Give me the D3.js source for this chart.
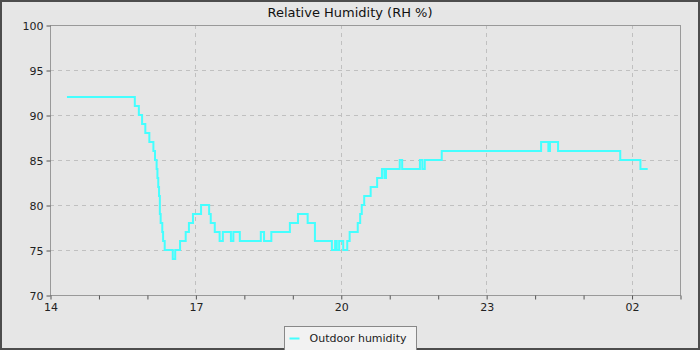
<!DOCTYPE html>
<html>
<head>
<meta charset="utf-8">
<script src="https://cdn.jsdelivr.net/npm/d3@7"></script>
<style>
  html, body { margin: 0; padding: 0; background: #4d4d4d; }
  svg { display: block; font-family: "DejaVu Sans", sans-serif; }
</style>
</head>
<body>
<svg id="chart"></svg>
<script>
// readings (time of change, humidity %), drawn as steps
var times = ["14:21","15:45","15:50","15:54","15:58","16:03","16:08","16:10","16:12","16:13",
  "16:14","16:15","16:16","16:17","16:19","16:20","16:22","16:32","16:35","16:41",
  "16:48","16:52","16:57","17:07","17:17","17:19","17:24","17:30","17:34","17:44",
  "17:47","17:55","18:21","18:25","18:34","18:57","19:07","19:19","19:28","19:49",
  "19:53","19:55","19:58","20:03","20:08","20:11","20:21","20:24","20:26","20:29",
  "20:37","20:45","20:51","20:54","20:56","21:13","21:16","21:38","21:41","21:44",
  "22:05","00:08","00:17","00:19","00:29","01:46","02:11","02:20"];
var humidity = [92,91,90,89,88,87,86,85,84,83,
  82,81,79,78,77,76,75,74,75,76,
  77,78,79,80,79,78,77,76,77,76,
  77,76,77,76,77,78,79,78,76,75,
  76,75,76,75,76,77,78,79,80,81,
  82,83,84,83,84,85,84,85,84,85,
  86,87,86,87,86,85,84,84];
var yTicks = [70,75,80,85,90,95,100];
var xTickLabels = ["14","17","20","23","02"];

var W = 700, H = 350;
var m = {left: 50, right: 20, top: 25, bottom: 55};

var svg = d3.select('#chart').attr('width', W).attr('height', H);

// frame
svg.append('rect').attr('x', 2).attr('y', 2).attr('width', W - 4).attr('height', H - 4)
  .attr('fill', '#e6e6e6');

var day0 = new Date(2024, 0, 1, 14, 0);
function parseT(s) {
  var p = s.split(':'), h = +p[0], mi = +p[1];
  var d = new Date(2024, 0, 1, h, mi);
  if (h < 14) d.setDate(d.getDate() + 1);
  return d;
}
var data = times.map(function(t, i){ return {t: parseT(t), v: humidity[i]}; });

var x = d3.scaleTime()
  .domain([day0, new Date(2024, 0, 2, 3, 0)])
  .range([m.left, W - m.right]);
var y = d3.scaleLinear().domain([70, 100]).range([H - m.bottom, m.top]);

// grid
var g = svg.append('g');
g.selectAll('.hg').data(yTicks.slice(1, -1)).enter().append('line')
  .attr('x1', m.left).attr('x2', W - m.right)
  .attr('y1', function(d){ return y(d) + 0.5; }).attr('y2', function(d){ return y(d) + 0.5; })
  .attr('stroke', '#c0c0c0').attr('stroke-dasharray', '4,4');
var labelHours = d3.timeHour.range(day0, new Date(2024, 0, 2, 3, 1)).filter(function(d, i){ return i % 3 == 0; });
g.selectAll('.vg').data(labelHours.slice(1)).enter().append('line')
  .attr('y1', m.top).attr('y2', H - m.bottom)
  .attr('x1', function(d){ return Math.round(x(d)) + 0.5; }).attr('x2', function(d){ return Math.round(x(d)) + 0.5; })
  .attr('stroke', '#c0c0c0').attr('stroke-dasharray', '4,4');

// plot outline
svg.append('rect').attr('x', m.left + 0.5).attr('y', m.top + 0.5)
  .attr('width', W - m.left - m.right).attr('height', H - m.top - m.bottom)
  .attr('fill', 'none').attr('stroke', '#999');

// axes
var yAxis = svg.append('g').attr('transform', 'translate(' + (m.left + 0.5) + ',0.5)')
  .call(d3.axisLeft(y).tickValues(yTicks).tickSize(4).tickPadding(3));
var xAxis = svg.append('g').attr('transform', 'translate(0.5,' + (H - m.bottom + 0.5) + ')')
  .call(d3.axisBottom(x).ticks(d3.timeHour.every(1)).tickSize(4).tickPadding(4)
    .tickFormat(function(d, i){ return i % 3 == 0 ? xTickLabels[i / 3] : ''; }));
[yAxis, xAxis].forEach(function(a){
  a.select('.domain').remove();
  a.selectAll('line').attr('stroke', '#555');
  a.selectAll('text').attr('fill', '#222').style('font-size', '11px').style('font-family', '"DejaVu Sans", sans-serif');
});

// line
var line = d3.line()
  .x(function(d){ return x(d.t); })
  .y(function(d){ return y(d.v); })
  .curve(d3.curveStepAfter);
svg.append('path').datum(data).attr('d', line)
  .attr('fill', 'none').attr('stroke', '#44ffff').attr('stroke-width', 2);

// title
svg.append('text').attr('x', W / 2).attr('y', 17).attr('text-anchor', 'middle')
  .style('font-size', '13px').attr('fill', '#111').text('Relative Humidity (RH %)');

// legend
var lg = svg.append('g').attr('transform', 'translate(284.5,326.5)');
lg.append('rect').attr('width', 132).attr('height', 24).attr('fill', '#f2f2f2').attr('stroke', '#888');
lg.append('line').attr('x1', 5).attr('x2', 15).attr('y1', 12).attr('y2', 12)
  .attr('stroke', '#44ffff').attr('stroke-width', 2);
lg.append('text').attr('x', 25).attr('y', 15.5).style('font-size', '11px').attr('fill', '#222')
  .text('Outdoor humidity');
</script>
</body>
</html>
